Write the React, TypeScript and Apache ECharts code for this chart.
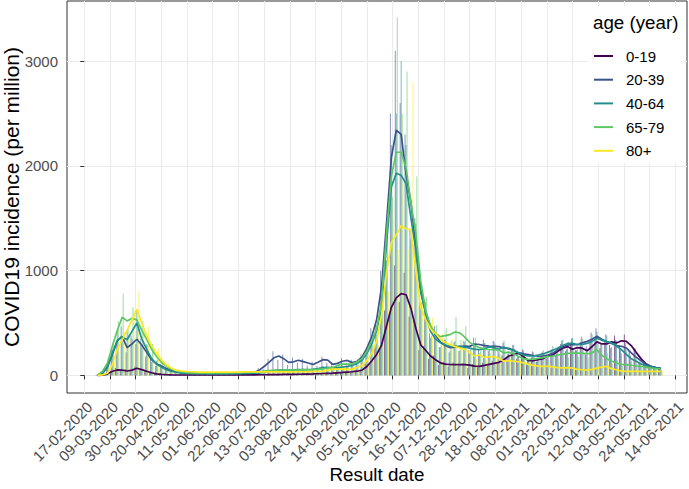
import React, { useEffect, useRef } from 'react';
import * as echarts from 'echarts';

const AGE_GROUPS = ['0-19', '20-39', '40-64', '65-79', '80+'];
const COLORS = ['#440154', '#3B528B', '#21908C', '#5DC863', '#FDE725'];

const TICK_LABELS = [
  '17-02-2020', '09-03-2020', '30-03-2020', '20-04-2020', '11-05-2020', '01-06-2020',
  '22-06-2020', '13-07-2020', '03-08-2020', '24-08-2020', '14-09-2020', '05-10-2020',
  '26-10-2020', '16-11-2020', '07-12-2020', '28-12-2020', '18-01-2021', '08-02-2021',
  '01-03-2021', '22-03-2021', '12-04-2021', '03-05-2021', '24-05-2021', '14-06-2021',
];
const Y_TICKS = [0, 1000, 2000, 3000];

// samples: one every 4 days starting 28-02-2020
const FIRST_SAMPLE = '28-02-2020';
const STEP_DAYS = 4;

// rolling incidence (lines)
const LINE_0_19 = [1, 3, 15, 40, 52, 50, 42, 50, 68, 55, 40, 25, 15, 10, 7, 5, 4, 4, 4, 4, 4,
  4, 4, 4, 4, 4, 4, 4, 4, 5, 5, 5, 5, 6,
  6, 7, 8, 8, 9, 10, 10, 11, 12, 13, 14, 16, 18, 20, 22, 25, 28, 32, 35, 40, 50,
  85, 140, 200, 290, 470, 650, 740, 780, 770, 640, 450, 290,
  240, 185, 150, 120, 108, 104, 102, 102, 102, 98, 88, 86, 95, 105, 115, 125, 150, 185, 200, 210,
  180, 140, 140, 150, 160, 185, 197, 230, 260, 275, 250, 265, 260, 235, 275, 320, 300, 300, 320, 310,
  330, 325, 285, 220, 160, 110, 86, 72, 65];
const LINE_20_39 = [5, 20, 80, 200, 330, 372, 265, 300, 345, 290, 220, 150, 110, 90, 65, 48, 35, 28, 24, 22, 20,
  20, 19, 18, 18, 18, 18, 18, 19, 19, 20, 22,
  30, 50, 85, 125, 168, 185, 160, 125, 130, 145, 132, 118, 104, 125, 150, 145, 105, 115, 135, 143, 122, 135, 175,
  260, 370, 535, 850, 1450, 2080, 2340, 2300, 1920, 1650, 1230, 810,
  610, 470, 390, 320, 285, 265, 270, 275, 280, 277, 300, 295, 285, 280, 278, 275, 262, 258, 240, 215,
  205, 198, 190, 183, 185, 195, 210, 245, 272, 290, 293, 293, 310, 325, 345, 375, 345, 322, 305, 285,
  278, 262, 215, 175, 140, 105, 86, 75, 70];
const LINE_40_64 = [4, 20, 90, 210, 335, 370, 340, 420, 500, 350, 250, 160, 110, 80, 55, 40, 30, 25, 20, 18, 17,
  16, 16, 15, 15, 15, 15, 16, 16, 17, 18, 20, 22,
  25, 30, 38, 45, 50, 50, 50, 52, 55, 55, 55, 58, 65, 75, 78, 72, 75, 80, 85, 95, 115, 145,
  210, 300, 430, 650, 1250, 1800, 1930, 1910, 1830, 1500, 1200, 790,
  590, 420, 350, 312, 290, 277, 277, 277, 270, 260, 250, 245, 255, 272, 262, 250, 272, 250, 240, 215,
  195, 185, 185, 195, 205, 222, 240, 262, 285, 305, 305, 295, 295, 305, 325, 355, 335, 322, 310, 280,
  245, 200, 160, 135, 110, 92, 84, 72, 68];
const LINE_65_79 = [3, 40, 120, 280, 430, 555, 520, 545, 530, 430, 345, 250, 180, 125, 88, 62, 45, 35, 28, 25, 23,
  22, 22, 22, 23, 24, 25, 25, 26, 27, 28, 30, 32, 36,
  42, 46, 48, 48, 48, 50, 50, 52, 52, 52, 55, 58, 62, 70, 75, 95, 110, 105, 110, 130, 160,
  230, 330, 450, 700, 1350, 1900, 2130, 2130, 1980, 1650, 1350, 900,
  620, 470, 400, 370, 380, 390, 415, 405, 365, 315, 285, 265, 252, 245, 245, 240, 215, 222, 205, 180,
  160, 152, 155, 163, 170, 180, 185, 193, 202, 210, 213, 213, 212, 205, 215, 245, 190, 160, 135, 118,
  105, 100, 97, 90, 86, 78, 70, 65, 62];
const LINE_80 = [0, 5, 20, 100, 250, 340, 430, 530, 630, 500, 380, 285, 215, 150, 100, 70, 50, 42, 38, 35, 33,
  32, 32, 32, 32, 32, 32, 32, 32, 32, 33, 33, 33, 33, 33, 33, 33, 33, 33, 34, 34, 35, 35, 36, 37, 38,
  38, 50, 60, 60, 62, 58, 60, 75, 95,
  140, 210, 330, 580, 970, 1270, 1340, 1430, 1400, 1390, 1000, 650,
  530, 445, 400, 345, 315, 293, 275, 261, 248, 215, 185, 195, 170, 178, 180, 160, 136, 140, 135, 130,
  120, 105, 95, 88, 86, 86, 82, 75, 72, 74, 70, 58, 54, 50, 58, 70, 80, 86, 62, 54,
  40, 38, 38, 38, 38, 38, 38, 38, 38];

// daily incidence (bars)
const DAILY_0_19 = [2, 5, 18, 35, 70, 45, 60, 40, 85, 50, 55, 30, 20, 12, 9, 6, 5, 4, 5, 3, 5,
  4, 6, 3, 5, 4, 6, 3, 5, 7, 4, 6, 5, 8,
  5, 9, 7, 10, 8, 12, 9, 13, 10, 15, 12, 18, 14, 25, 18, 32, 24, 40, 30, 48, 45,
  110, 120, 260, 250, 620, 560, 1050, 700, 980, 560, 520, 240,
  280, 160, 190, 100, 130, 85, 125, 90, 120, 70, 110, 75, 120, 90, 140, 110, 190, 170, 240, 160,
  220, 110, 170, 130, 190, 160, 240, 200, 300, 230, 300, 240, 320, 200, 330, 360, 260, 340, 290, 380,
  280, 390, 240, 260, 130, 140, 70, 90, 60];
const DAILY_20_39 = [8, 30, 110, 260, 290, 470, 220, 380, 300, 350, 180, 190, 90, 110, 50, 60, 30, 32, 20, 26, 18,
  22, 16, 21, 15, 20, 17, 22, 16, 23, 18, 26,
  25, 70, 60, 160, 230, 150, 200, 100, 170, 120, 160, 95, 130, 90, 180, 120, 125, 95, 165, 120, 150, 110, 200,
  240, 450, 500, 1000, 1300, 2500, 3100, 2600, 2300, 1400, 1500, 700,
  720, 400, 470, 270, 340, 220, 320, 230, 330, 240, 360, 250, 340, 230, 330, 240, 310, 210, 290, 180,
  250, 160, 230, 150, 220, 170, 250, 210, 330, 250, 350, 240, 370, 280, 410, 450, 300, 390, 260, 340,
  240, 310, 190, 260, 130, 130, 70, 90, 60];
const DAILY_40_64 = [6, 28, 120, 250, 420, 330, 420, 350, 620, 300, 300, 130, 140, 70, 70, 35, 38, 22, 25, 16, 20,
  14, 19, 13, 18, 14, 17, 14, 19, 15, 21, 18, 25,
  22, 36, 32, 52, 42, 58, 45, 60, 50, 65, 48, 68, 60, 90, 70, 85, 68, 95, 80, 110, 105, 170,
  190, 360, 390, 780, 1100, 2200, 2500, 3000, 2200, 1300, 1450, 700,
  700, 360, 420, 270, 340, 240, 330, 240, 320, 220, 300, 210, 310, 240, 320, 220, 330, 220, 290, 180,
  240, 160, 220, 160, 240, 190, 280, 230, 340, 260, 360, 250, 350, 260, 390, 420, 290, 380, 270, 330,
  210, 240, 140, 160, 90, 110, 70, 85, 60];
const DAILY_65_79 = [5, 60, 150, 330, 520, 780, 450, 650, 480, 520, 290, 300, 150, 150, 75, 75, 38, 42, 24, 30, 20,
  26, 19, 25, 20, 28, 21, 29, 22, 31, 24, 34, 27, 40,
  36, 52, 42, 55, 44, 56, 46, 58, 47, 60, 50, 65, 55, 80, 66, 115, 90, 125, 95, 150, 150,
  260, 290, 520, 620, 1600, 1700, 3420, 2500, 2900, 1400, 1900, 700,
  750, 380, 480, 300, 450, 330, 560, 340, 470, 260, 360, 230, 310, 210, 300, 200, 270, 190, 250, 150,
  200, 130, 190, 140, 210, 150, 230, 160, 250, 170, 260, 180, 260, 170, 270, 300, 160, 210, 110, 150,
  90, 120, 80, 110, 70, 95, 60, 75, 55];
const DAILY_80 = [0, 8, 30, 130, 230, 420, 380, 620, 800, 430, 470, 250, 260, 120, 130, 55, 62, 35, 45, 28, 40,
  26, 40, 28, 38, 27, 39, 26, 40, 28, 38, 27, 41, 29, 39, 28, 40, 29, 42, 30, 41, 31, 43, 32, 45, 34,
  50, 45, 80, 50, 85, 55, 75, 60, 120,
  130, 260, 290, 720, 800, 1500, 1200, 1900, 1200, 2800, 900, 800,
  480, 550, 340, 400, 270, 350, 240, 320, 210, 260, 160, 240, 140, 220, 150, 200, 110, 170, 110, 160,
  95, 130, 80, 110, 70, 105, 65, 95, 60, 90, 55, 75, 45, 65, 50, 90, 65, 110, 50, 70,
  32, 48, 30, 46, 30, 46, 30, 45, 32];

const LINES = [LINE_0_19, LINE_20_39, LINE_40_64, LINE_65_79, LINE_80];
const DAILIES = [DAILY_0_19, DAILY_20_39, DAILY_40_64, DAILY_65_79, DAILY_80];

const FONT = '"Liberation Sans", Arial, Helvetica, sans-serif';
const DAY_MS = 86400000;
const toUTC = (s: string) => {
  const [d, m, y] = s.split('-').map(Number);
  return Date.UTC(y, m - 1, d);
};
const ORIGIN = toUTC(TICK_LABELS[0]);
const dayOf = (s: string) => Math.round((toUTC(s) - ORIGIN) / DAY_MS);
const TICK_DAYS = TICK_LABELS.map(dayOf);
const FIRST_DAY = dayOf(FIRST_SAMPLE);
const sampleDay = (i: number) => FIRST_DAY + i * STEP_DAYS;

export default function App() {
  const ref = useRef<HTMLDivElement>(null);
  useEffect(() => {
    document.body.style.margin = '0';
    if (!ref.current) return;
    const chart = echarts.init(ref.current, undefined, { renderer: 'svg' });

    const barSeries = AGE_GROUPS.map((g, k) => ({
      name: g + ' daily',
      type: 'bar',
      barWidth: 1,
      barGap: '0%',
      silent: true,
      itemStyle: { color: COLORS[k], opacity: 0.6 },
      data: DAILIES[k].map((v, i) => [sampleDay(i), v]),
    }));
    const lineSeries = AGE_GROUPS.map((g, k) => ({
      name: g,
      type: 'line',
      showSymbol: false,
      symbol: 'none',
      silent: true,
      color: COLORS[k],
      lineStyle: { color: COLORS[k], width: 1.7 },
      data: LINES[k].map((v, i) => [sampleDay(i), v]),
    }));

    chart.setOption({
      animation: false,
      backgroundColor: '#ffffff',
      textStyle: { fontFamily: FONT },
      grid: {
        left: 67, right: 2, top: 1, bottom: 96,
        show: true, borderColor: '#333333', borderWidth: 1,
        backgroundColor: 'transparent',
        outerBoundsMode: 'none',
      },
      xAxis: {
        type: 'value',
        min: -14.1,
        max: 492.6,
        name: 'Result date',
        nameLocation: 'middle',
        nameGap: 72,
        nameMoveOverlap: false,
        nameTextStyle: { fontSize: 18.75, color: '#000000', fontFamily: FONT },
        axisLine: { show: false },
        axisTick: { show: true, length: 4, customValues: TICK_DAYS, lineStyle: { color: '#333333' } },
        axisLabel: {
          customValues: TICK_DAYS,
          rotate: 45,
          align: 'right',
          verticalAlign: 'top',
          margin: 6,
          fontSize: 15,
          color: '#4D4D4D',
          fontFamily: FONT,
          formatter: (v: number) => {
            const idx = TICK_DAYS.indexOf(Math.round(v));
            return idx >= 0 ? TICK_LABELS[idx] : '';
          },
        },
        splitLine: { show: true, lineStyle: { color: '#EBEBEB', width: 1.1 } },
      },
      yAxis: {
        type: 'value',
        min: -168,
        max: 3574,
        name: 'COVID19 incidence (per million)',
        nameLocation: 'middle',
        nameGap: 45,
        nameMoveOverlap: false,
        nameTextStyle: { fontSize: 21, color: '#000000', fontFamily: FONT },
        axisLine: { show: false },
        axisTick: { show: true, length: 4, customValues: Y_TICKS, lineStyle: { color: '#333333' } },
        axisLabel: {
          customValues: Y_TICKS,
          margin: 9,
          fontSize: 15,
          color: '#4D4D4D',
          fontFamily: FONT,
          formatter: (v: number) => String(Math.round(v)),
        },
        splitLine: { show: true, lineStyle: { color: '#EBEBEB', width: 1.1 } },
      },
      legend: {
        data: AGE_GROUPS,
        orient: 'vertical',
        left: 594,
        top: 48,
        padding: 0,
        itemWidth: 19,
        itemHeight: 2,
        itemGap: 7.7,
        icon: 'rect',
        selectedMode: false,
        z: 20,
        textStyle: { fontSize: 15, color: '#000000', fontFamily: FONT, lineHeight: 16, padding: [0, 0, 0, 8] },
      },
      graphic: [
        {
          type: 'rect',
          z: 10,
          shape: { x: 588, y: 6, width: 96, height: 157 },
          style: { fill: '#ffffff' },
          silent: true,
        },
        {
          type: 'text',
          z: 21,
          x: 593,
          y: 22,
          style: {
            text: 'age (year)',
            fontSize: 18.75,
            fontFamily: FONT,
            fill: '#000000',
            textVerticalAlign: 'middle',
            verticalAlign: 'middle',
          },
          silent: true,
        },
      ],
      series: [...barSeries, ...lineSeries],
    });
    return () => chart.dispose();
  }, []);
  return <div ref={ref} style={{ width: 689, height: 489 }} />;
}
